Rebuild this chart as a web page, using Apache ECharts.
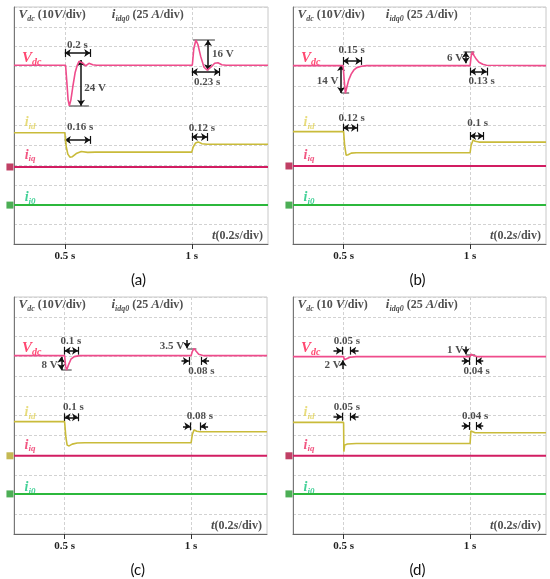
<!DOCTYPE html>
<html>
<head>
<meta charset="utf-8">
<script src="https://cdn.jsdelivr.net/npm/echarts@6.0.0/dist/echarts.min.js"></script>
<style>
html, body { margin: 0; padding: 0; background: #fff; }
#main { width: 550px; height: 579px; }
</style>
</head>
<body>
<div id="main"></div>
<script>
// time window shown on each screen (s), one division = 0.1 s on this axis
const tStart = 0.3, tEnd = 1.3;
const tickTimes = [0.5, 1];
const tickLabels = ['0.5 s', '1 s'];
const panelTags = ['(a)', '(b)', '(c)', '(d)'];

// traces: [time (s), screen position in divisions from the bottom]
const vdcA = [[0.3, 9.05], [0.503, 9.05], [0.508, 8.2], [0.513, 7.3], [0.518, 7.0], [0.524, 7.3], [0.532, 8.0], [0.541, 8.7], [0.549, 9.05], [0.556, 9.25], [0.563, 9.32], [0.572, 9.15], [0.582, 9.02], [0.595, 9.15], [0.61, 9.08], [0.625, 9.05], [1.002, 9.05], [1.008, 9.9], [1.016, 10.33], [1.024, 10.1], [1.035, 9.5], [1.048, 8.95], [1.061, 8.8], [1.075, 8.95], [1.09, 9.15], [1.103, 9.18], [1.118, 9.08], [1.135, 9.05], [1.3, 9.05]];
const idA = [[0.3, 5.63], [0.5, 5.63], [0.506, 4.9], [0.512, 4.55], [0.52, 4.4], [0.53, 4.42], [0.545, 4.58], [0.565, 4.68], [0.59, 4.64], [0.62, 4.65], [1.0, 4.65], [1.005, 4.9], [1.015, 5.12], [1.025, 5.17], [1.04, 5.08], [1.06, 5.05], [1.3, 5.05]];
const vdcB = [[0.3, 9.03], [0.498, 9.03], [0.503, 8.2], [0.507, 7.63], [0.512, 7.9], [0.52, 8.3], [0.53, 8.6], [0.54, 8.8], [0.552, 8.93], [0.57, 9.0], [0.59, 9.03], [1.0, 9.03], [1.004, 9.5], [1.009, 9.74], [1.015, 9.55], [1.025, 9.35], [1.035, 9.2], [1.05, 9.1], [1.065, 9.05], [1.3, 9.03]];
const idB = [[0.3, 5.69], [0.5, 5.69], [0.504, 5.0], [0.51, 4.5], [0.518, 4.52], [0.53, 4.6], [0.55, 4.62], [1.0, 4.62], [1.004, 5.0], [1.012, 5.27], [1.02, 5.2], [1.035, 5.16], [1.3, 5.16]];
const vdcC = [[0.3, 9.03], [0.5, 9.03], [0.504, 8.5], [0.508, 8.3], [0.515, 8.55], [0.525, 8.85], [0.538, 8.98], [0.56, 9.03], [1.0, 9.03], [1.005, 9.25], [1.012, 9.4], [1.02, 9.25], [1.03, 9.1], [1.05, 9.03], [1.3, 9.03]];
const idC = [[0.3, 5.69], [0.5, 5.69], [0.505, 4.9], [0.51, 4.5], [0.518, 4.46], [0.53, 4.55], [0.55, 4.61], [0.58, 4.62], [1.0, 4.62], [1.005, 5.05], [1.012, 5.27], [1.022, 5.2], [1.035, 5.18], [1.3, 5.18]];
const vdcD = [[0.3, 8.98], [0.5, 8.98], [0.503, 8.82], [0.51, 8.86], [0.525, 8.95], [0.55, 8.98], [1.0, 8.98], [1.004, 9.1], [1.012, 9.05], [1.03, 8.98], [1.3, 8.98]];
const idD = [[0.3, 5.65], [0.5, 5.65], [0.501, 4.17], [0.504, 4.5], [0.515, 4.56], [0.55, 4.58], [1.0, 4.59], [1.003, 5.22], [1.01, 5.15], [1.02, 5.13], [1.3, 5.13]];
// flat channels, level in divisions per screen
const iqLevels = [3.9, 3.95, 3.96, 3.96];
const i0Levels = [1.97, 1.97, 2.03, 2.03];

// dimension arrows per screen, [[t1, d1], [t2, d2]]
const dimArrows = [
    [[[0.5, 9.67], [0.6, 9.67]], [[0.564, 9.32], [0.564, 7.0]], [[1.064, 10.33], [1.064, 8.8]], [[1.0, 8.71], [1.11, 8.71]], [[0.5, 5.27], [0.6, 5.27]], [[1.0, 5.42], [1.06, 5.42]]],
    [[[0.498, 9.27], [0.57, 9.27]], [[0.49, 9.06], [0.49, 7.65]], [[0.983, 9.74], [0.983, 9.15]], [[1.0, 8.73], [1.066, 8.73]], [[0.498, 5.89], [0.553, 5.89]], [[1.0, 5.47], [1.053, 5.47]]],
    [[[0.5, 9.28], [0.553, 9.28]], [[0.487, 8.98], [0.487, 8.3]], [[0.5, 5.91], [0.553, 5.91]]],
    []
];
// single-headed arrows (head at the second point)
const oneArrows = [
    [],
    [],
    [[[0.984, 9.82], [0.984, 9.4]], [[0.962, 8.76], [0.991, 8.76]], [[1.071, 8.76], [1.041, 8.76]], [[0.968, 5.45], [0.997, 5.45]], [[1.067, 5.45], [1.037, 5.45]]],
    [[[0.46, 9.28], [0.493, 9.28]], [[0.559, 9.28], [0.526, 9.28]], [[0.497, 8.35], [0.497, 8.8]], [[0.983, 9.5], [0.983, 9.1]], [[0.967, 8.76], [0.996, 8.76]], [[1.052, 8.76], [1.024, 8.76]], [[0.46, 5.94], [0.493, 5.94]], [[0.559, 5.94], [0.526, 5.94]], [[0.967, 5.47], [0.996, 5.47]], [[1.052, 5.47], [1.024, 5.47]]]
];
// grey reference caps at peaks
const capLines = [
    [[[0.516, 7.0], [0.595, 7.0]], [[1.005, 10.33], [1.091, 10.33]]],
    [[[0.49, 7.65], [0.522, 7.65]], [[0.974, 9.74], [1.017, 9.74]]],
    [[[0.487, 8.3], [0.528, 8.3]], [[0.984, 9.4], [1.021, 9.4]]],
    [[[0.983, 9.1], [1.02, 9.1]]]
];
// annotation texts: [t, d, text, side]  side: c centred, l ends at point, r starts at point
const notes = [
    [[0.55, 10.08, '0.2 s', 'c'], [0.575, 7.9, '24 V', 'r'], [1.078, 9.6, '16 V', 'r'], [1.06, 8.2, '0.23 s', 'c'], [0.56, 5.92, '0.16 s', 'c'], [1.04, 5.87, '0.12 s', 'c']],
    [[0.532, 9.82, '0.15 s', 'c'], [0.482, 8.22, '14 V', 'l'], [0.975, 9.4, '6 V', 'l'], [1.046, 8.22, '0.13 s', 'c'], [0.532, 6.36, '0.12 s', 'c'], [1.03, 6.11, '0.1 s', 'c']],
    [[0.525, 9.74, '0.1 s', 'c'], [0.475, 8.56, '8 V', 'l'], [0.975, 9.5, '3.5 V', 'l'], [1.041, 8.22, '0.08 s', 'c'], [0.535, 6.42, '0.1 s', 'c'], [1.035, 5.97, '0.08 s', 'c']],
    [[0.513, 9.74, '0.05 s', 'c'], [0.49, 8.56, '2 V', 'l'], [0.975, 9.3, '1 V', 'l'], [1.026, 8.22, '0.04 s', 'c'], [0.513, 6.42, '0.05 s', 'c'], [1.02, 5.97, '0.04 s', 'c']]
];

const vdcTraces = [vdcA, vdcB, vdcC, vdcD];
const idTraces = [idA, idB, idC, idD];

const grids = [
    { left: 14, top: 7, width: 254, height: 237 },
    { left: 293, top: 7, width: 253, height: 237 },
    { left: 14, top: 297, width: 253, height: 237 },
    { left: 293, top: 297, width: 253, height: 237 }
];

const serif = 'Liberation Serif';
function txt(color, size, italic) {
    return { fontFamily: serif, fontWeight: 'bold', fontStyle: italic ? 'italic' : 'normal', fontSize: size, color: color };
}
function sub(color, size) {
    return Object.assign(txt(color, size, true), { padding: [8, 0, 0, 0] });
}
const rich = {
    b: txt('#222', 12, false), i: txt('#222', 13, true), s: sub('#222', 8),
    n: txt('#222', 11, false),
    vr: txt('#ff1a4d', 15, true), vrs: sub('#ff1a4d', 10),
    yl: txt('#e2d35a', 14, true), yls: sub('#e2d35a', 9),
    rd: txt('#ee2a62', 14, true), rds: sub('#ee2a62', 9),
    gn: txt('#12c47c', 14, true), gns: sub('#12c47c', 9)
};

let chart = echarts.init(document.getElementById('main'));
let xAxes = [], yAxes = [], series = [], graphics = [];

grids.forEach((g, k) => {
    xAxes.push({
        type: 'value', gridIndex: k, min: tStart, max: tEnd, interval: 0.1,
        axisLine: { lineStyle: { color: '#666', width: 1 } },
        axisTick: { show: true, customValues: tickTimes, length: 5, lineStyle: { color: '#333' } },
        axisLabel: {
            customValues: tickTimes, margin: 7,
            formatter: v => tickLabels[tickTimes.indexOf(Math.round(v * 10) / 10)] || '',
            fontFamily: serif, fontWeight: 'bold', fontSize: 11, color: '#222'
        },
        splitLine: { show: true, lineStyle: { color: '#d2d2d2', type: [3, 2] } }
    });
    yAxes.push({
        type: 'value', gridIndex: k, min: 0, max: 12, interval: 1,
        axisLine: { show: true, lineStyle: { color: '#777' } },
        axisTick: { show: false }, axisLabel: { show: false },
        splitLine: { show: true, lineStyle: { color: '#d2d2d2', type: [3, 2] } }
    });
    const base = { xAxisIndex: k, yAxisIndex: k, silent: true, animation: false };
    const line = (data, color, width) => Object.assign({
        type: 'line', data: data, symbol: 'none', lineStyle: { color: color, width: width }
    }, base);
    series.push(line([[tStart, i0Levels[k]], [tEnd, i0Levels[k]]], '#2cb83c', 2));
    series.push(line([[tStart, iqLevels[k]], [tEnd, iqLevels[k]]], '#d21d62', 2));
    series.push(line(idTraces[k], '#c9bb3a', 1.6));
    series.push(line(vdcTraces[k], '#ef4c8c', 1.6));

    // end bars for the horizontal dimension arrows
    let bars = capLines[k].map(c => ({ coords: c, lineStyle: { color: '#777', width: 1.5 } }));
    dimArrows[k].forEach(a => {
        if (a[0][1] === a[1][1]) {
            a.forEach(p => bars.push({ coords: [[p[0], p[1] - 0.2], [p[0], p[1] + 0.2]], lineStyle: { color: '#111', width: 1.2 } }));
        }
    });
    oneArrows[k].forEach(a => {
        if (a[0][1] === a[1][1]) {
            const p = a[1];
            bars.push({ coords: [[p[0], p[1] - 0.2], [p[0], p[1] + 0.2]], lineStyle: { color: '#111', width: 1.2 } });
        }
    });
    series.push(Object.assign({ type: 'lines', coordinateSystem: 'cartesian2d', symbol: 'none', data: bars, lineStyle: { opacity: 1 } }, base));
    series.push(Object.assign({
        type: 'lines', coordinateSystem: 'cartesian2d', symbol: ['arrow', 'arrow'], symbolSize: 6,
        lineStyle: { color: '#111', width: 1.5, opacity: 1 },
        data: dimArrows[k].map(a => ({ coords: a }))
    }, base));
    series.push(Object.assign({
        type: 'lines', coordinateSystem: 'cartesian2d', symbol: ['none', 'arrow'], symbolSize: 6,
        lineStyle: { color: '#111', width: 1.5, opacity: 1 },
        data: oneArrows[k].map(a => ({ coords: a }))
    }, base));

    // texts anchored in screen divisions
    const pos = { c: 'inside', l: 'left', r: 'right' };
    let labels = notes[k].map(n => ({ value: [n[0], n[1]], name: '{n|' + n[2] + '}', label: { position: pos[n[3]] } }));
    const hdrV = k === 3 ? '{i|V}{s|dc}{b| (10 }{i|V}{b|/div)}' : '{i|V}{s|dc}{b| (10}{i|V}{b|/div)}';
    labels.push({ value: [0.316, 11.6], name: hdrV, label: { position: 'right' } });
    labels.push({ value: [k % 2 ? 0.665 : 0.683, 11.6], name: '{i|i}{s|idq0}{b| (25 }{i|A}{b|/div)}', label: { position: 'right' } });
    labels.push({ value: [1.282, 0.42], name: '{i|t}{b|(0.2}{i|s}{b|/div)}', label: { position: 'left' } });
    labels.push({ value: [0.33, 9.42], name: '{vr|V}{vrs|dc}', label: { position: 'right' } });
    labels.push({ value: [0.34, 6.15], name: '{yl|i}{yls|id}', label: { position: 'right' } });
    labels.push({ value: [0.34, 4.5], name: '{rd|i}{rds|iq}', label: { position: 'right' } });
    labels.push({ value: [0.34, 2.35], name: '{gn|i}{gns|i0}', label: { position: 'right' } });
    series.push(Object.assign({
        type: 'scatter', symbolSize: 1, itemStyle: { color: 'rgba(0,0,0,0)' },
        label: { show: true, distance: 0, formatter: p => p.name, rich: rich },
        data: labels
    }, base));

    // channel markers on the left edge of the screen
    series.push(Object.assign({
        type: 'scatter', symbol: 'rect', symbolSize: 7, clip: false,
        data: [
            { value: [0.284, iqLevels[k]], itemStyle: { color: k === 2 ? '#b7a828' : '#b0103f' } },
            { value: [0.284, i0Levels[k]], itemStyle: { color: '#1f9a2a' } }
        ]
    }, base));

    graphics.push({
        type: 'text', left: g.left + g.width / 2 - 10, top: g.top + g.height + 29,
        style: { text: panelTags[k], font: '15px Lato', fill: '#111' }
    });
});

chart.setOption({
    animation: false,
    grid: grids.map(g => Object.assign({ show: true, borderColor: '#c8c8c8', borderWidth: 1, backgroundColor: '#fff' }, g)),
    xAxis: xAxes,
    yAxis: yAxes,
    series: series,
    graphic: graphics
});
</script>
</body>
</html>
